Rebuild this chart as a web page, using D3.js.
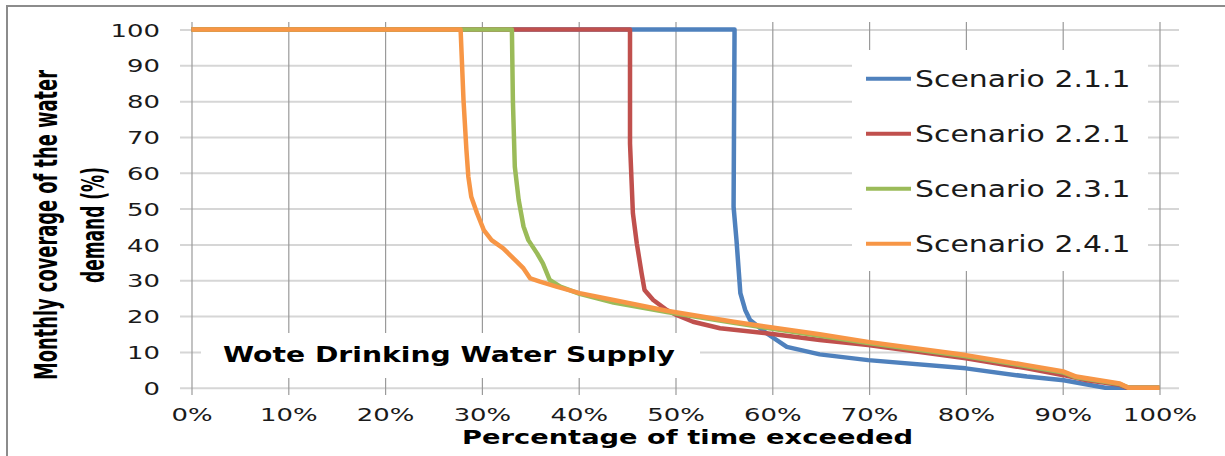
<!DOCTYPE html>
<html><head><meta charset="utf-8">
<script src="https://cdn.jsdelivr.net/npm/d3@7"></script>
<style>html,body{margin:0;padding:0;background:#fff;}svg{display:block;}</style>
</head><body>
<svg id="chart" width="1225" height="456"></svg>
<script>
// ---------- data ----------
const seriesNames = ["Scenario 2.1.1", "Scenario 2.2.1", "Scenario 2.3.1", "Scenario 2.4.1"];
const seriesColors = ["#4F81BD", "#C0504D", "#9BBB59", "#F79646"];

const s211X = [0, 56.1, 56.0, 56.3, 56.7, 57.2, 57.7, 59.4, 61.5, 64.9, 69.9, 80.0, 86.3, 90.1, 94.4, 100];
const s211Y = [100, 100, 50.5, 41.2, 26.4, 21.7, 18.9, 15.2, 11.4, 9.3, 7.7, 5.4, 3.1, 2.1, 0, 0];

const s221X = [0, 45.3, 45.3, 45.6, 46.0, 46.5, 46.8, 47.7, 49.1, 50.1, 51.8, 54.6, 59.4, 64.9, 69.9, 80.0, 86.3, 90.1, 92.5, 95.9, 96.6, 100];
const s221Y = [100, 100, 68.2, 48.7, 40.3, 31.9, 27.3, 24.5, 21.7, 20.3, 18.4, 16.6, 15.2, 13.3, 11.9, 8.2, 5.4, 3.5, 2.1, 0.8, 0, 0];

const s231X = [0, 33.1, 33.2, 33.4, 33.8, 34.3, 34.8, 35.7, 36.3, 37.0, 38.1, 40.1, 43.6, 49.1, 56.0, 64.9, 69.9, 80.0, 86.3, 90.1, 91.4, 95.9, 96.8, 100];
const s231Y = [100, 100, 80.3, 61.7, 52.4, 45.0, 41.2, 37.5, 34.7, 30.1, 28.2, 26.2, 23.8, 21.1, 18.1, 14.5, 12.5, 8.8, 6.0, 4.2, 2.9, 1.0, 0, 0];

const s241X = [0, 27.8, 28.1, 28.4, 28.6, 28.9, 29.5, 30.2, 31.0, 32.2, 33.6, 34.3, 35.0, 36.0, 37.7, 40.1, 43.6, 49.1, 56.0, 64.9, 69.9, 80.0, 86.3, 90.1, 91.4, 95.9, 96.8, 100];
const s241Y = [100, 100, 80.3, 66.4, 58.9, 53.3, 48.7, 44.0, 41.2, 38.9, 35.2, 33.3, 30.5, 29.6, 28.2, 26.4, 24.5, 21.5, 18.4, 14.9, 12.8, 9.1, 6.3, 4.5, 3.1, 1.2, 0, 0];

const xTickValues = [0, 10, 20, 30, 40, 50, 60, 70, 80, 90, 100];
const xTickLabels = ["0%", "10%", "20%", "30%", "40%", "50%", "60%", "70%", "80%", "90%", "100%"];
const yTickValues = [0, 10, 20, 30, 40, 50, 60, 70, 80, 90, 100];
const yTickLabels = ["0", "10", "20", "30", "40", "50", "60", "70", "80", "90", "100"];

const xTitle = "Percentage of time exceeded";
const yTitleLines = ["Monthly coverage of the water", "demand (%)"];
const boxLabel = "Wote Drinking Water Supply";

// ---------- chart ----------
const svg = d3.select("#chart");
const x = d3.scaleLinear().domain([0, 100]).range([191.5, 1159.5]);
const y = d3.scaleLinear().domain([0, 100]).range([387.7, 29.5]);
const SX = 1.4; // horizontal text stretch

// outer border
svg.append("rect").attr("x", 7).attr("y", 6).attr("width", 1400).attr("height", 700)
  .attr("fill", "none").attr("stroke", "#8c8c8c").attr("stroke-width", 2);

// horizontal gridlines + y labels
const gL = 180, gR = 1179;
const yAxis = svg.append("g").attr("transform", `translate(${gL},0)`)
  .call(d3.axisLeft(y).tickValues(yTickValues).tickFormat((d, i) => yTickLabels[i]).tickSize(-(gR - gL)).tickPadding(0));
yAxis.select(".domain").remove();
yAxis.selectAll("line").attr("stroke", "#d6d6d6").attr("stroke-width", 2);
yAxis.selectAll("text")
  .attr("x", -20 / SX).attr("dy", "0.36em")
  .attr("transform", `scale(${SX},1)`)
  .attr("font-family", "DejaVu Sans, Verdana, sans-serif").attr("font-size", 18.5).attr("fill", "#1a1a1a");

// vertical gridlines + x labels
const gT = 22, gB = 395;
const xAxis = svg.append("g").attr("transform", `translate(0,${gB})`)
  .call(d3.axisBottom(x).tickValues(xTickValues).tickFormat((d, i) => xTickLabels[i]).tickSize(-(gB - gT)).tickPadding(0));
xAxis.select(".domain").remove();
xAxis.selectAll("line").attr("stroke", "#9a9a9a").attr("stroke-width", 1.2);
xAxis.selectAll("text")
  .attr("y", 26.5).attr("dy", 0)
  .attr("transform", `scale(${SX},1)`)
  .attr("font-family", "DejaVu Sans, Verdana, sans-serif").attr("font-size", 18.5).attr("fill", "#1a1a1a");

// series
const xsArr = [s211X, s221X, s231X, s241X];
const ysArr = [s211Y, s221Y, s231Y, s241Y];
const lineStraight = d3.line().x(d => x(d[0])).y(d => y(d[1]));
xsArr.forEach((xs, i) => {
  const pts = xs.map((v, j) => [v, ysArr[i][j]]);
  svg.append("path").datum(pts).attr("d", lineStraight)
    .attr("fill", "none").attr("stroke", seriesColors[i]).attr("stroke-width", 4.5)
    .attr("stroke-linejoin", "round").attr("stroke-linecap", "butt");
});

// text box label
svg.append("rect").attr("x", 201).attr("y", 333).attr("width", 499).attr("height", 45).attr("fill", "#fff");
svg.append("text").attr("x", 223).attr("y", 362)
  .attr("font-family", "DejaVu Sans, Verdana, sans-serif").attr("font-weight", "bold").attr("font-size", 22)
  .attr("textLength", 452).attr("lengthAdjust", "spacingAndGlyphs").attr("fill", "#000")
  .text(boxLabel);

// legend
svg.append("rect").attr("x", 852).attr("y", 50).attr("width", 296).attr("height", 221).attr("fill", "#fff");
seriesNames.forEach((name, i) => {
  const ly = 78.7 + i * 55;
  svg.append("line").attr("x1", 866).attr("x2", 911).attr("y1", ly).attr("y2", ly)
    .attr("stroke", seriesColors[i]).attr("stroke-width", 4);
  svg.append("text").attr("transform", `translate(915,${ly + 8.5}) scale(1.30,1)`)
    .attr("font-family", "DejaVu Sans, Verdana, sans-serif").attr("font-size", 23).attr("fill", "#1a1a1a")
    .text(name);
});

// axis titles
svg.append("text").attr("x", 462).attr("y", 444)
  .attr("font-family", "DejaVu Sans, Verdana, sans-serif").attr("font-weight", "bold").attr("font-size", 20)
  .attr("textLength", 451).attr("lengthAdjust", "spacingAndGlyphs").attr("fill", "#000")
  .text(xTitle);

const yBase = [57, 104], yLen = [310, 116];
yTitleLines.forEach((t, i) => {
  svg.append("text").attr("transform", `translate(${yBase[i]},225) rotate(-90) scale(1,1.45)`)
    .attr("text-anchor", "middle")
    .attr("font-family", "Liberation Sans Narrow, DejaVu Sans Condensed, Liberation Sans, sans-serif")
    .attr("font-weight", "bold").attr("font-size", 22)
    .attr("textLength", yLen[i]).attr("lengthAdjust", "spacingAndGlyphs").attr("fill", "#000")
    .text(t);
});
</script>
</body></html>
